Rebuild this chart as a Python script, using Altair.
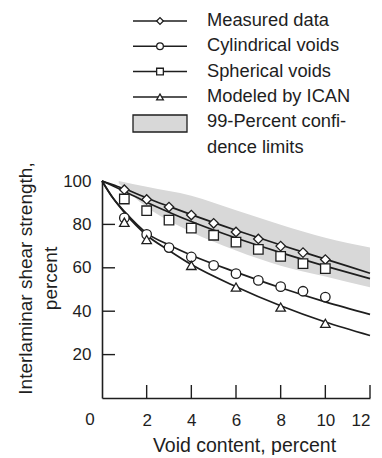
import altair as alt
import pandas as pd

# ---- data ----
series_names = ["Measured data", "Cylindrical voids", "Spherical voids", "Modeled by ICAN"]
series_shapes = ["diamond", "circle", "square", "triangle-up"]

measured_x = [1, 2, 3, 4, 5, 6, 7, 8, 9, 10]
measured_y = [96.0, 91.5, 88.0, 84.3, 80.5, 76.5, 73.3, 70.0, 67.0, 63.8]
spherical_x = [1, 2, 3, 4, 5, 6, 7, 8, 9, 10]
spherical_y = [91.7, 86.3, 82.0, 78.3, 75.0, 71.8, 68.5, 65.3, 61.9, 59.6]
cylindrical_x = [1, 2, 3, 4, 5, 6, 7, 8, 9, 10]
cylindrical_y = [83.0, 75.4, 69.3, 65.0, 61.1, 57.3, 54.2, 51.3, 49.2, 46.5]
ican_x = [1, 2, 4, 6, 8, 10]
ican_y = [81.0, 73.0, 61.1, 51.1, 41.9, 34.4]

fit_x = [0, 0.5, 1, 2, 3, 4, 6, 8, 10, 12]
fit_measured = [100, 98.2, 96.4, 92.2, 88.3, 84.5, 77.3, 70.5, 64.0, 57.5]
fit_spherical = [100, 97.7, 95.3, 90.2, 85.6, 81.3, 73.7, 67.0, 60.8, 55.0]
fit_cylindrical = [100, 92.0, 86.0, 76.0, 70.5, 65.8, 58.0, 50.8, 44.3, 38.5]
fit_ican = [100, 92.0, 85.5, 75.0, 68.0, 61.5, 51.3, 42.5, 35.0, 28.8]

band_x = [0.75, 2, 4, 6, 8, 10, 12]
band_upper = [100, 97.3, 93.2, 86.5, 79.8, 73.8, 69.3]
band_lower = [99, 88, 76.5, 68, 61, 56, 51]

x_ticks = [2, 4, 6, 8, 10, 12]
x_labels = [2, 4, 6, 8, 10, 12]
origin_label = ["0"]
y_ticks = [20, 40, 60, 80]
y_labels = [20, 40, 60, 80, 100]

legend_rows = ["Measured data", "Cylindrical voids", "Spherical voids", "Modeled by ICAN",
               "99-Percent confi-", "dence limits"]

# ---- tables ----
pts = pd.concat([
    pd.DataFrame({"x": measured_x, "y": measured_y, "s": series_names[0]}),
    pd.DataFrame({"x": cylindrical_x, "y": cylindrical_y, "s": series_names[1]}),
    pd.DataFrame({"x": spherical_x, "y": spherical_y, "s": series_names[2]}),
    pd.DataFrame({"x": ican_x, "y": ican_y, "s": series_names[3]}),
])
fits = pd.concat([
    pd.DataFrame({"x": fit_x, "y": fit_measured, "s": series_names[0]}),
    pd.DataFrame({"x": fit_x, "y": fit_cylindrical, "s": series_names[1]}),
    pd.DataFrame({"x": fit_x, "y": fit_spherical, "s": series_names[2]}),
    pd.DataFrame({"x": fit_x, "y": fit_ican, "s": series_names[3]}),
])
band = pd.DataFrame({"x": band_x, "lo": band_lower, "hi": band_upper})

FONT = "Liberation Sans"
INK = "#1e1e1e"
BAND = "#d8d8d8"
W, H = 268, 217

xs = alt.Scale(domain=[0, 12], nice=False, zero=False)
ys = alt.Scale(domain=[0, 100], nice=False)
shape_scale = alt.Scale(domain=series_names, range=series_shapes)

area = alt.Chart(band).mark_area(color=BAND, interpolate="monotone").encode(
    x=alt.X("x:Q", scale=xs,
            axis=alt.Axis(values=x_labels, ticks=False, grid=False, domainColor=INK,
                          domainWidth=1.6, labelColor=INK, labelFont=FONT, labelFontSize=17,
                          labelPadding=14,
                          title="Void content, percent", titleFont=FONT, titleFontSize=19.5,
                          titleFontWeight="normal", titleColor=INK, titlePadding=8,
                          titleX=142)),
    y=alt.Y("lo:Q", scale=ys,
            axis=alt.Axis(values=y_labels, ticks=False, grid=False, domainColor=INK,
                          domainWidth=1.6, labelColor=INK, labelFont=FONT, labelFontSize=17,
                          labelPadding=11,
                          title=["Interlaminar shear strength,", "percent"], titleFont=FONT,
                          titleFontSize=19, titleFontWeight="normal", titleColor=INK,
                          titleLineHeight=25, titlePadding=2, titleY=97)),
    y2="hi:Q",
)

lines = alt.Chart(fits).mark_line(color=INK, strokeWidth=1.7, interpolate="monotone").encode(
    x=alt.X("x:Q", scale=xs), y=alt.Y("y:Q", scale=ys), detail="s:N")

points = alt.Chart(pts).mark_point(filled=True, fill="white", stroke=INK, strokeWidth=1.3,
                                   size=90, opacity=1).encode(
    x=alt.X("x:Q", scale=xs), y=alt.Y("y:Q", scale=ys),
    shape=alt.Shape("s:N", scale=shape_scale, legend=None))

xt = alt.Chart(pd.DataFrame({"t": x_ticks})).mark_rule(color=INK, strokeWidth=1.4).encode(
    x=alt.X("t:Q", scale=xs), y=alt.value(H - 13), y2=alt.value(H))
yt = alt.Chart(pd.DataFrame({"t": y_ticks})).mark_rule(color=INK, strokeWidth=1.4).encode(
    y=alt.Y("t:Q", scale=ys), x=alt.value(0), x2=alt.value(13))

zero_lbl = alt.Chart(pd.DataFrame({"lbl": origin_label, "v": [0]})).mark_text(
    font=FONT, fontSize=17, color=INK, align="center", baseline="top", dx=-12, dy=14).encode(
    x=alt.X("v:Q", scale=xs), y=alt.Y("v:Q", scale=ys), text="lbl:N")

plot = alt.layer(area, lines, xt, yt, points, zero_lbl).properties(width=W, height=H)

# ---- legend panel ----
leg = pd.DataFrame({"row": list(range(len(legend_rows))), "label": legend_rows})
leg_sym = pd.DataFrame({"row": [0, 1, 2, 3], "s": series_names})
ry = alt.Scale(domain=[0, 5], range=[13, 139.5])

leg_lines = alt.Chart(leg_sym).mark_rule(color=INK, strokeWidth=1.5).encode(
    y=alt.Y("row:Q", scale=ry, axis=None), x=alt.value(31), x2=alt.value(85))
leg_pts = alt.Chart(leg_sym).mark_point(filled=True, fill="white", stroke=INK, strokeWidth=1.3,
                                        size=45, opacity=1).encode(
    y=alt.Y("row:Q", scale=ry, axis=None), x=alt.value(58),
    shape=alt.Shape("s:N", scale=shape_scale, legend=None))
leg_box = alt.Chart(pd.DataFrame({"row": [4]})).mark_rect(
    fill=BAND, stroke=INK, strokeWidth=1.3).encode(
    y=alt.value(107), y2=alt.value(124), x=alt.value(31), x2=alt.value(85))
leg_txt = alt.Chart(leg).mark_text(align="left", baseline="middle", font=FONT, fontSize=18.3,
                                   color=INK).encode(
    y=alt.Y("row:Q", scale=ry, axis=None), x=alt.value(105), text="label:N")

legend = alt.layer(leg_box, leg_lines, leg_pts, leg_txt).properties(width=W, height=165)

chart = alt.vconcat(legend, plot, spacing=8, bounds="flush").configure_view(stroke=None).properties(
    padding={"left": 8, "top": 0, "right": 0, "bottom": 0})

chart.save("out.html", embed_options={"renderer": "svg", "actions": False})
